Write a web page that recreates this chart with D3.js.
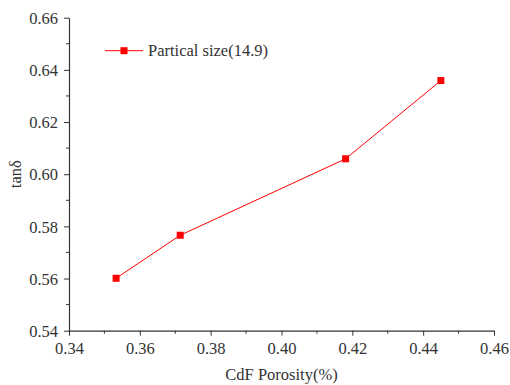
<!DOCTYPE html>
<html>
<head>
<meta charset="utf-8">
<script src="https://cdnjs.cloudflare.com/ajax/libs/d3/7.8.5/d3.min.js"></script>
<style>
  body { margin: 0; background: #fff; }
  svg text { font-family: "Liberation Serif", "Times New Roman", serif; fill: #333; }
</style>
</head>
<body>
<div id="chart"></div>
<script>
// data
var porosity = [0.3533, 0.3714, 0.4181, 0.4450];
var tanDelta = [0.5601, 0.5766, 0.6059, 0.6359];
var seriesName = "Partical size(14.9)";
var xTicks = [0.34, 0.36, 0.38, 0.40, 0.42, 0.44, 0.46];
var yTicks = [0.54, 0.56, 0.58, 0.60, 0.62, 0.64, 0.66];

var W = 510, H = 385;
var fontSize = 16.5;

var svg = d3.select("#chart").append("svg").attr("width", W).attr("height", H)

var x = d3.scaleLinear().domain([0.34, 0.46]).range([69, 494]);
var y = d3.scaleLinear().domain([0.54, 0.66]).range([330.7, 17.7]);

var axisColor = "#333";

// minor ticks halfway between majors
var xMinor = d3.range(0.35, 0.46, 0.02);
var yMinor = d3.range(0.55, 0.66, 0.02);

var gx = svg.append("g").attr("transform", "translate(0," + y(0.54) + ")")
gx.call(d3.axisBottom(x).tickValues(xTicks).tickFormat(d3.format(".2f")).tickSizeInner(5).tickSizeOuter(0))
gx.attr("font-family", null)
gx.selectAll("line.minor").data(xMinor).enter().append("line")
  .attr("x1", d => x(d)).attr("x2", d => x(d)).attr("y1", 0).attr("y2", 3)
  .attr("stroke", axisColor)
gx.select(".domain").attr("stroke", axisColor).attr("stroke-width", 1.2)
gx.selectAll(".tick line").attr("stroke", axisColor)
gx.selectAll(".tick text").attr("font-size", fontSize).attr("y", 8).attr("dy", "0.9em").attr("fill", "#333")

var gy = svg.append("g").attr("transform", "translate(" + x(0.34) + ",0)")
gy.call(d3.axisLeft(y).tickValues(yTicks).tickFormat(d3.format(".2f")).tickSizeInner(5).tickSizeOuter(0))
gy.attr("font-family", null)
gy.selectAll("line.minor").data(yMinor).enter().append("line")
  .attr("y1", d => y(d)).attr("y2", d => y(d)).attr("x1", 0).attr("x2", -3)
  .attr("stroke", axisColor)
gy.select(".domain").attr("stroke", axisColor).attr("stroke-width", 1.2)
gy.selectAll(".tick line").attr("stroke", axisColor)
gy.selectAll(".tick text").attr("font-size", fontSize).attr("x", -11).attr("dy", "0.35em").attr("fill", "#333")

// axis titles
svg.append("text").attr("x", (x(0.34) + x(0.46)) / 2).attr("y", 380)
  .attr("text-anchor", "middle").attr("font-size", fontSize).text("CdF Porosity(%)")
svg.append("text").attr("transform", "translate(21," + y(0.60) + ") rotate(-90)")
  .attr("text-anchor", "middle").attr("font-size", fontSize).text("tanδ")

// series
var pts = porosity.map((p, i) => [p, tanDelta[i]]);
var line = d3.line().x(d => x(d[0])).y(d => y(d[1]));
svg.append("path").datum(pts).attr("d", line)
  .attr("fill", "none").attr("stroke", "#ff0000").attr("stroke-width", 1)

var ms = 7;
svg.selectAll("rect.pt").data(pts).enter().append("rect").attr("class", "pt")
  .attr("x", d => x(d[0]) - ms / 2).attr("y", d => y(d[1]) - ms / 2)
  .attr("width", ms).attr("height", ms).attr("fill", "#ff0000")

// legend
var lg = svg.append("g").attr("transform", "translate(105,50.7)")
lg.append("line").attr("x1", 0).attr("x2", 38).attr("y1", 0).attr("y2", 0)
  .attr("stroke", "#ff0000").attr("stroke-width", 1)
lg.append("rect").attr("x", 19 - ms / 2).attr("y", -ms / 2).attr("width", ms).attr("height", ms).attr("fill", "#ff0000")
lg.append("text").attr("x", 43).attr("y", 0).attr("dy", "0.35em").attr("font-size", fontSize).text(seriesName)
</script>
</body>
</html>
